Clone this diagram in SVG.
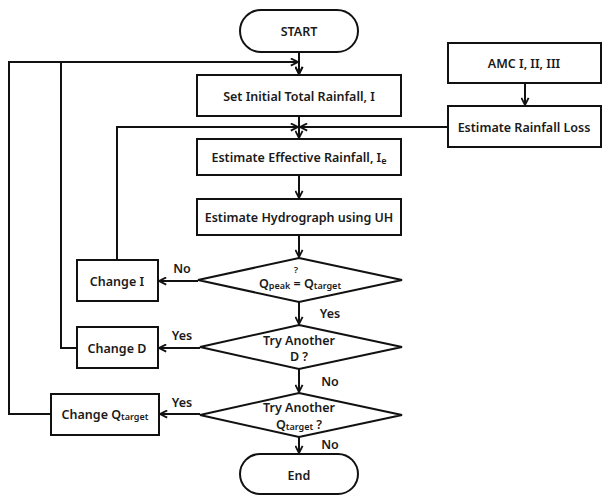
<svg xmlns="http://www.w3.org/2000/svg" width="602" height="495" viewBox="0 0 602 495">
<style>
.box{fill:#fff;stroke:#111;stroke-width:2}
.ln{fill:none;stroke:#111;stroke-width:2}
.t{font-family:"Noto Sans","Liberation Sans",sans-serif;font-weight:600;font-size:12.5px;fill:#1a1a1a;text-anchor:middle;dominant-baseline:central}
.sub{font-size:9px}
.lbl{font-family:"Noto Sans","Liberation Sans",sans-serif;font-weight:600;font-size:12.5px;fill:#1a1a1a;text-anchor:middle;dominant-baseline:central}
</style>
<defs>
<marker id="ah" viewBox="0 0 10 10" refX="9" refY="5" markerWidth="9" markerHeight="9" markerUnits="userSpaceOnUse" orient="auto">
<path d="M1,1 L9,5 L1,9" fill="none" stroke="#111" stroke-width="2"/>
</marker>
</defs>
<rect width="602" height="495" fill="#fff"/>
<g id="connectors">
<path class="ln" d="M299,52 V74" marker-end="url(#ah)"/>
<path class="ln" d="M51,414 H9 V62 H298" marker-end="url(#ah)"/>
<path class="ln" d="M77,348 H61 V62"/>
<path class="ln" d="M299,62 V74" marker-end="url(#ah)"/>
<path class="ln" d="M299,116 V138" marker-end="url(#ah)"/>
<path class="ln" d="M117,260 V127 H298" marker-end="url(#ah)"/>
<path class="ln" d="M448,127 H300" marker-end="url(#ah)"/>
<path class="ln" d="M525,83 V105" marker-end="url(#ah)"/>
<path class="ln" d="M299,175 V198" marker-end="url(#ah)"/>
<path class="ln" d="M299,235 V257" marker-end="url(#ah)"/>
<path class="ln" d="M198,281 H159" marker-end="url(#ah)"/>
<path class="ln" d="M299,302 V324" marker-end="url(#ah)"/>
<path class="ln" d="M200,348 H159" marker-end="url(#ah)"/>
<path class="ln" d="M299,369 V392" marker-end="url(#ah)"/>
<path class="ln" d="M200,414 H160" marker-end="url(#ah)"/>
<path class="ln" d="M299,437 V453" marker-end="url(#ah)"/>
<text class="lbl" x="182" y="268">No</text>
<text class="lbl" x="330" y="313">Yes</text>
<text class="lbl" x="182" y="335">Yes</text>
<text class="lbl" x="330" y="381">No</text>
<text class="lbl" x="182" y="402">Yes</text>
<text class="lbl" x="330" y="444">No</text>
</g>
<g id="start">
<rect class="box" x="240" y="10" width="118" height="42" rx="21"/>
<text class="t" x="299" y="31">START</text>
</g>
<g id="set-initial">
<rect class="box" x="197" y="75" width="204" height="41"/>
<text class="t" x="299" y="96">Set Initial Total Rainfall, I</text>
</g>
<g id="amc">
<rect class="box" x="448" y="43" width="153" height="40"/>
<text class="t" x="524" y="63">AMC I, II, III</text>
</g>
<g id="rainfall-loss">
<rect class="box" x="448" y="106" width="153" height="41"/>
<text class="t" x="524" y="127">Estimate Rainfall Loss</text>
</g>
<g id="effective">
<rect class="box" x="197" y="139" width="204" height="36"/>
<text class="t" x="299" y="157">Estimate Effective Rainfall, I<tspan class="sub" dy="3">e</tspan></text>
</g>
<g id="hydrograph">
<rect class="box" x="197" y="199" width="204" height="36"/>
<text class="t" x="299" y="217">Estimate Hydrograph using UH</text>
</g>
<g id="decision-q">
<polygon class="box" points="299,258 402,280 299,302 198,280"/>
<text class="t" x="296" y="269" style="font-size:9.5px">?</text>
<text class="t" x="300" y="283">Q<tspan class="sub" dy="2">peak</tspan><tspan dy="-2"> = Q</tspan><tspan class="sub" dy="2">target</tspan></text>
</g>
<g id="change-i">
<rect class="box" x="77" y="260" width="81" height="41"/>
<text class="t" x="117" y="281">Change I</text>
</g>
<g id="decision-d">
<polygon class="box" points="299,325 402,347 299,369 200,347"/>
<text class="t" x="299" y="340">Try Another</text>
<text class="t" x="299" y="356">D ?</text>
</g>
<g id="change-d">
<rect class="box" x="77" y="327" width="81" height="41"/>
<text class="t" x="117" y="348">Change D</text>
</g>
<g id="decision-target">
<polygon class="box" points="299,393 402,415 299,437 200,415"/>
<text class="t" x="299" y="407">Try Another</text>
<text class="t" x="299" y="424">Q<tspan class="sub" dy="2">target</tspan><tspan dy="-2"> ?</tspan></text>
</g>
<g id="change-target">
<rect class="box" x="51" y="394" width="108" height="41"/>
<text class="t" x="105" y="414">Change Q<tspan class="sub" dy="2">target</tspan></text>
</g>
<g id="end">
<rect class="box" x="240" y="454" width="118" height="40" rx="20"/>
<text class="t" x="299" y="475">End</text>
</g>
</svg>
